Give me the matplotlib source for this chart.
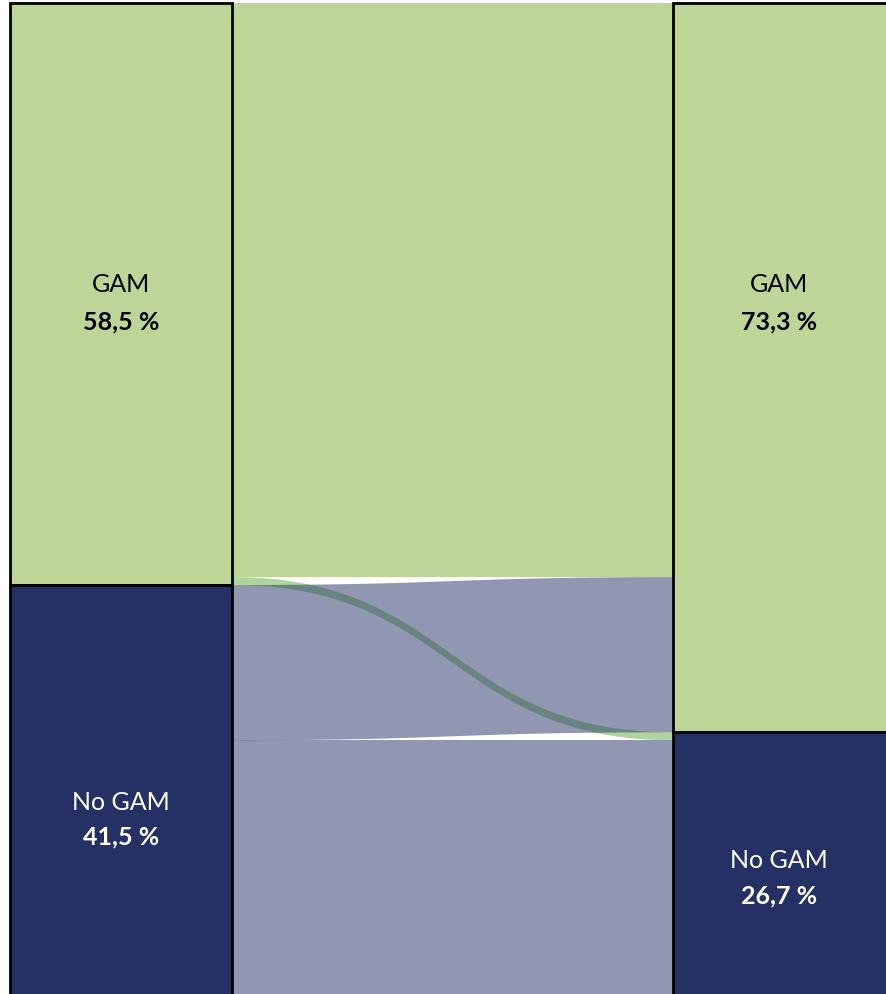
import numpy as np
import matplotlib
matplotlib.use('Agg')
import matplotlib.pyplot as plt
from matplotlib.patches import Rectangle, Polygon

# shares (%) at the two time points
categories = ['GAM', 'No GAM']
left_share = [58.5, 41.5]
right_share = [73.3, 26.7]
left_labels = ['58,5 %', '41,5 %']
right_labels = ['73,3 %', '26,7 %']

# transitions (%): (from, to, value)
flows = [('GAM', 'GAM', 57.7),
         ('GAM', 'No GAM', 0.8),
         ('No GAM', 'GAM', 15.6),
         ('No GAM', 'No GAM', 25.9)]

green = '#bdd596'
navy = '#253165'
colors = {'GAM': green, 'No GAM': navy}
text_col = {'GAM': 'black', 'No GAM': 'white'}

plt.rcParams['font.family'] = ['Lato', 'DejaVu Sans']

fig = plt.figure(figsize=(8.86, 9.94), dpi=100)
ax = fig.add_axes([0, 0, 1, 1])
ax.set_xlim(0, 886)
ax.set_ylim(99.6, -0.3)
ax.axis('off')

xl0, xl1 = 10, 232
xr0, xr1 = 673, 900

# node bars
def bars(x0, x1, shares):
    pos = {}
    y = 0
    for c, s in zip(categories, shares):
        ax.add_patch(Rectangle((x0, y), x1 - x0, s, facecolor=colors[c],
                               edgecolor='black', lw=2.0, zorder=3))
        pos[c] = y
        y += s
    return pos

lpos = bars(xl0, xl1, left_share)
rpos = bars(xr0, xr1, right_share)

# stacking order of flows on each side
left_order = [0, 1, 2, 3]
right_order = [0, 2, 1, 3]
lstart, rstart = {}, {}
y = 0
for i in left_order:
    lstart[i] = y
    y += flows[i][2]
y = 0
for i in right_order:
    rstart[i] = y
    y += flows[i][2]

t = np.linspace(0, 1, 200)
bx = (1 - t)**3 * xl1 + 3 * (1 - t)**2 * t * (xl1 + xr0) / 2 + \
     3 * (1 - t) * t**2 * (xl1 + xr0) / 2 + t**3 * xr0
s = 3 * (1 - t) * t**2 + t**3

# green flows first, then navy flows translucent on top
for src in ['GAM', 'No GAM']:
    for i, (a, b, v) in enumerate(flows):
        if a != src:
            continue
        top = lstart[i] + (rstart[i] - lstart[i]) * s
        bot = top + v
        pts = np.vstack([np.column_stack([bx, top]),
                         np.column_stack([bx[::-1], bot[::-1]])])
        if a == 'GAM':
            fc = green if b == 'GAM' else '#afd4a0'
            ax.add_patch(Polygon(pts, closed=True, facecolor=fc,
                                 edgecolor='none', zorder=1))
        else:
            ax.add_patch(Polygon(pts, closed=True, facecolor=navy,
                                 alpha=0.5, edgecolor='none', zorder=2))

# labels
lab_y = {'left': [(28.3, 32.1), (80.4, 83.8)],
         'right': [(28.3, 32.1), (86.2, 89.7)]}
for side, xc, labs in [('left', (xl0 + xl1) / 2, left_labels),
                       ('right', 779, right_labels)]:
    for k, c in enumerate(categories):
        y1, y2 = lab_y[side][k]
        ax.text(xc, y1, c, ha='center', va='center', fontsize=18,
                color=text_col[c], zorder=5)
        ax.text(xc, y2, labs[k], ha='center', va='center', fontsize=18,
                fontweight='bold', color=text_col[c], zorder=5)

fig.savefig('out.png', dpi=100)
